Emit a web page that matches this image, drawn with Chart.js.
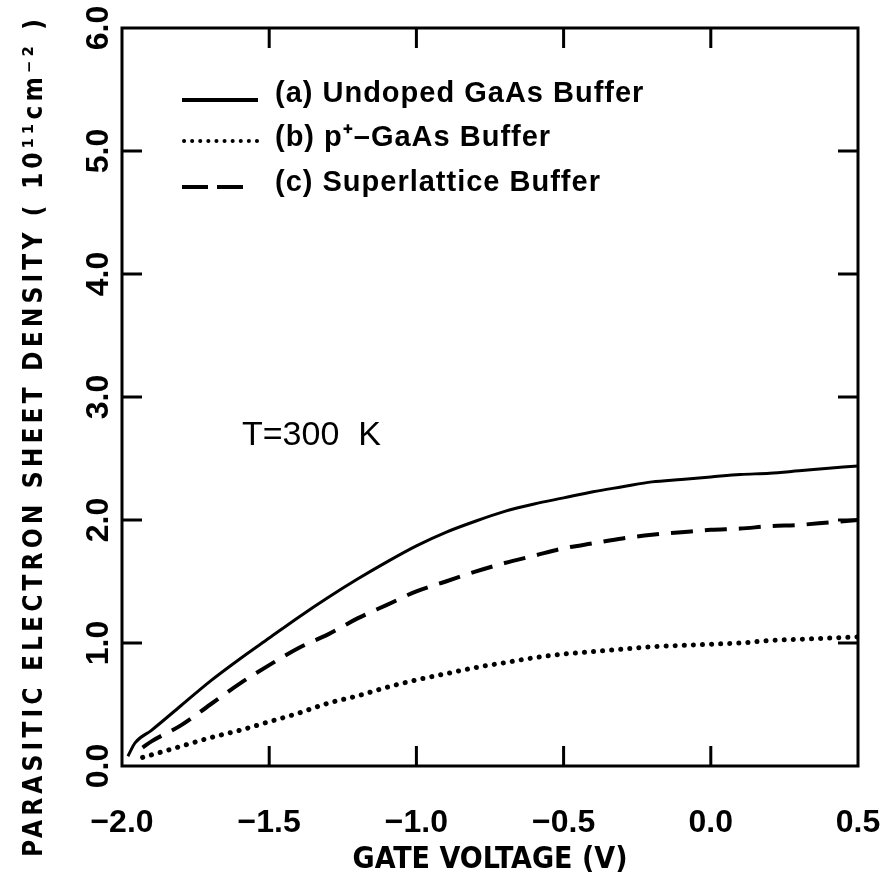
<!DOCTYPE html>
<html>
<head>
<meta charset="utf-8">
<script src="https://cdn.jsdelivr.net/npm/chart.js@4.4.0/dist/chart.umd.min.js"></script>
<style>
  html, body { margin: 0; padding: 0; background: #fff; }
  #wrap { width: 886px; height: 882px; }
</style>
</head>
<body>
<div id="wrap"><canvas id="chart" width="886" height="882"></canvas></div>
<script>
// (a) undoped GaAs buffer
var voltsA = [-1.98, -1.955, -1.90, -1.80, -1.70, -1.60, -1.50, -1.40, -1.30, -1.20, -1.10, -1.00, -0.90, -0.80, -0.70, -0.60, -0.50, -0.40, -0.30, -0.20, -0.10, 0.00, 0.10, 0.20, 0.30, 0.40, 0.50];
var densA = [0.08, 0.19, 0.29, 0.49, 0.69, 0.87, 1.04, 1.21, 1.37, 1.52, 1.66, 1.79, 1.90, 1.99, 2.07, 2.13, 2.18, 2.23, 2.27, 2.31, 2.33, 2.35, 2.37, 2.38, 2.40, 2.42, 2.44];

// (b) p+ GaAs buffer
var voltsB = [-1.93, -1.90, -1.80, -1.70, -1.60, -1.50, -1.40, -1.30, -1.20, -1.10, -1.00, -0.90, -0.80, -0.70, -0.60, -0.50, -0.40, -0.30, -0.20, -0.10, 0.00, 0.10, 0.20, 0.30, 0.40, 0.50];
var densB = [0.07, 0.09, 0.16, 0.23, 0.29, 0.36, 0.43, 0.51, 0.57, 0.64, 0.70, 0.75, 0.80, 0.84, 0.88, 0.91, 0.93, 0.95, 0.97, 0.98, 0.99, 1.00, 1.02, 1.03, 1.04, 1.05];

// (c) superlattice buffer
var voltsC = [-1.93, -1.90, -1.80, -1.70, -1.60, -1.50, -1.40, -1.30, -1.20, -1.10, -1.00, -0.90, -0.80, -0.70, -0.60, -0.50, -0.40, -0.30, -0.20, -0.10, 0.00, 0.10, 0.20, 0.30, 0.40, 0.50];
var densC = [0.15, 0.20, 0.33, 0.50, 0.67, 0.82, 0.96, 1.07, 1.20, 1.31, 1.42, 1.50, 1.58, 1.65, 1.71, 1.77, 1.81, 1.85, 1.88, 1.90, 1.92, 1.93, 1.95, 1.96, 1.98, 2.00];

var seriesNames = ['(a) Undoped GaAs Buffer', '(b) p\u207A\u2013GaAs Buffer', '(c) Superlattice Buffer'];

var xTickValues = [-2.0, -1.5, -1.0, -0.5, 0.0, 0.5];
var xTickLabels = ['\u22122.0', '\u22121.5', '\u22121.0', '\u22120.5', '0.0', '0.5'];
var yTickValues = [0, 1, 2, 3, 4, 5, 6];
var yTickLabels = ['0.0', '1.0', '2.0', '3.0', '4.0', '5.0', '6.0'];

var xTitle = 'GATE VOLTAGE (V)';
var yTitle = 'PARASITIC ELECTRON SHEET DENSITY ( 10\u00B9\u00B9cm\u207B\u00B2 )';
var noteText = 'T=300  K';

function toPoints(xs, ys) {
    return xs.map(function (v, i) { return { x: v, y: ys[i] }; });
}

var tickFont = { family: 'Liberation Sans, Arial, sans-serif', size: 32, weight: 'bold' };
var narrowFamily = '"Liberation Sans Narrow", "DejaVu Sans Condensed", "Liberation Sans", sans-serif';

// fit text to a width using letter spacing
function spacedText(ctx, text, x, y, target) {
    ctx.letterSpacing = '0px';
    var w = ctx.measureText(text).width;
    var sp = (target - w) / text.length;
    ctx.letterSpacing = sp.toFixed(2) + 'px';
    ctx.fillText(text, x, y);
    ctx.letterSpacing = '0px';
}

// frame + inward ticks + legend + notes
var decorPlugin = {
    id: 'decor',
    afterDatasetsDraw: function (chart) {
        var ctx = chart.ctx;
        var a = chart.chartArea;
        var xs = chart.scales.x;
        var ys = chart.scales.y;
        ctx.save();
        ctx.strokeStyle = '#000';
        ctx.lineWidth = 3;
        ctx.lineCap = 'butt';
        ctx.strokeRect(a.left, a.top, a.right - a.left, a.bottom - a.top);

        ctx.beginPath();
        xTickValues.forEach(function (v) {
            var px = xs.getPixelForValue(v);
            if (px <= a.left + 2 || px >= a.right - 2) return;
            ctx.moveTo(px, a.bottom); ctx.lineTo(px, a.bottom - 20);
            ctx.moveTo(px, a.top); ctx.lineTo(px, a.top + 20);
        });
        yTickValues.forEach(function (v) {
            var py = ys.getPixelForValue(v);
            if (py <= a.top + 2 || py >= a.bottom - 2) return;
            ctx.moveTo(a.left, py); ctx.lineTo(a.left + 20, py);
            ctx.moveTo(a.right, py); ctx.lineTo(a.right - 20, py);
        });
        ctx.stroke();

        // legend
        var textRows = [94, 138, 183];
        var lineRows = [100, 141, 187];
        ctx.fillStyle = '#000';
        ctx.font = 'bold 29px "Liberation Sans", Arial, sans-serif';
        ctx.textBaseline = 'middle';
        ctx.textAlign = 'left';
        chart.data.datasets.forEach(function (ds, i) {
            var y = lineRows[i];
            ctx.save();
            ctx.lineWidth = 4;
            ctx.lineCap = ds.borderCapStyle || 'butt';
            ctx.setLineDash(i === 1 ? [0.1, 8] : (i === 2 ? [26, 9] : []));
            ctx.beginPath();
            ctx.moveTo(i === 1 ? 184 : 182, y);
            ctx.lineTo(i === 2 ? 243 : 258, y);
            ctx.stroke();
            ctx.restore();
            ctx.letterSpacing = '1px';
            ctx.fillText(seriesNames[i], 275, textRows[i]);
            ctx.letterSpacing = '0px';
        });

        // temperature note
        ctx.font = '34px "Liberation Sans", Arial, sans-serif';
        ctx.fillText(noteText, 242, 436);

        // y axis title, rotated
        ctx.save();
        ctx.translate(42, 436);
        ctx.rotate(-Math.PI / 2);
        ctx.font = 'bold 26px ' + narrowFamily;
        ctx.textAlign = 'center';
        ctx.textBaseline = 'alphabetic';
        spacedText(ctx, yTitle, 0, 0, 842);
        ctx.restore();

        ctx.restore();
    }
};

var ctx = document.getElementById('chart').getContext('2d');
var chart = new Chart(ctx, {
    type: 'line',
    data: {
        datasets: [{
            label: seriesNames[0],
            data: toPoints(voltsA, densA),
            borderColor: '#000',
            borderWidth: 3,
            pointRadius: 0,
            cubicInterpolationMode: 'monotone'
        }, {
            label: seriesNames[1],
            data: toPoints(voltsB, densB),
            borderColor: '#000',
            borderWidth: 5,
            borderDash: [0.1, 9],
            borderCapStyle: 'round',
            pointRadius: 0,
            cubicInterpolationMode: 'monotone'
        }, {
            label: seriesNames[2],
            data: toPoints(voltsC, densC),
            borderColor: '#000',
            borderWidth: 4,
            borderDash: [22, 12],
            pointRadius: 0,
            cubicInterpolationMode: 'monotone'
        }]
    },
    options: {
        responsive: false,
        animation: false,
        devicePixelRatio: 1,
        layout: { padding: { left: 0, top: 28, right: 28, bottom: 0 } },
        plugins: {
            legend: { display: false },
            tooltip: { enabled: false }
        },
        scales: {
            x: {
                type: 'linear',
                min: -2.0,
                max: 0.5,
                afterBuildTicks: function (scale) {
                    scale.ticks = xTickValues.map(function (v) { return { value: v }; });
                },
                afterFit: function (scale) {
                    scale.height = 116;
                    scale.paddingLeft = 0;
                    scale.paddingRight = 0;
                },
                grid: { display: false, drawTicks: false },
                border: { display: false },
                ticks: {
                    color: '#000',
                    font: tickFont,
                    padding: 38,
                    maxRotation: 0,
                    autoSkip: false,
                    callback: function (value, index) { return xTickLabels[index]; }
                },
                title: {
                    display: true,
                    text: xTitle,
                    color: '#000',
                    font: { family: narrowFamily, size: 30, weight: 'bold' },
                    padding: { top: 0, bottom: 4 }
                }
            },
            y: {
                type: 'linear',
                min: 0,
                max: 6,
                afterBuildTicks: function (scale) {
                    scale.ticks = yTickValues.map(function (v) { return { value: v }; });
                },
                afterFit: function (scale) {
                    scale.width = 122;
                    scale.paddingTop = 0;
                    scale.paddingBottom = 0;
                },
                grid: { display: false, drawTicks: false },
                border: { display: false },
                ticks: {
                    color: '#000',
                    font: tickFont,
                    padding: 1,
                    minRotation: 90,
                    maxRotation: 90,
                    crossAlign: 'center',
                    autoSkip: false,
                    callback: function (value, index) { return yTickLabels[index]; }
                }
            }
        }
    },
    plugins: [decorPlugin]
});
</script>
</body>
</html>
